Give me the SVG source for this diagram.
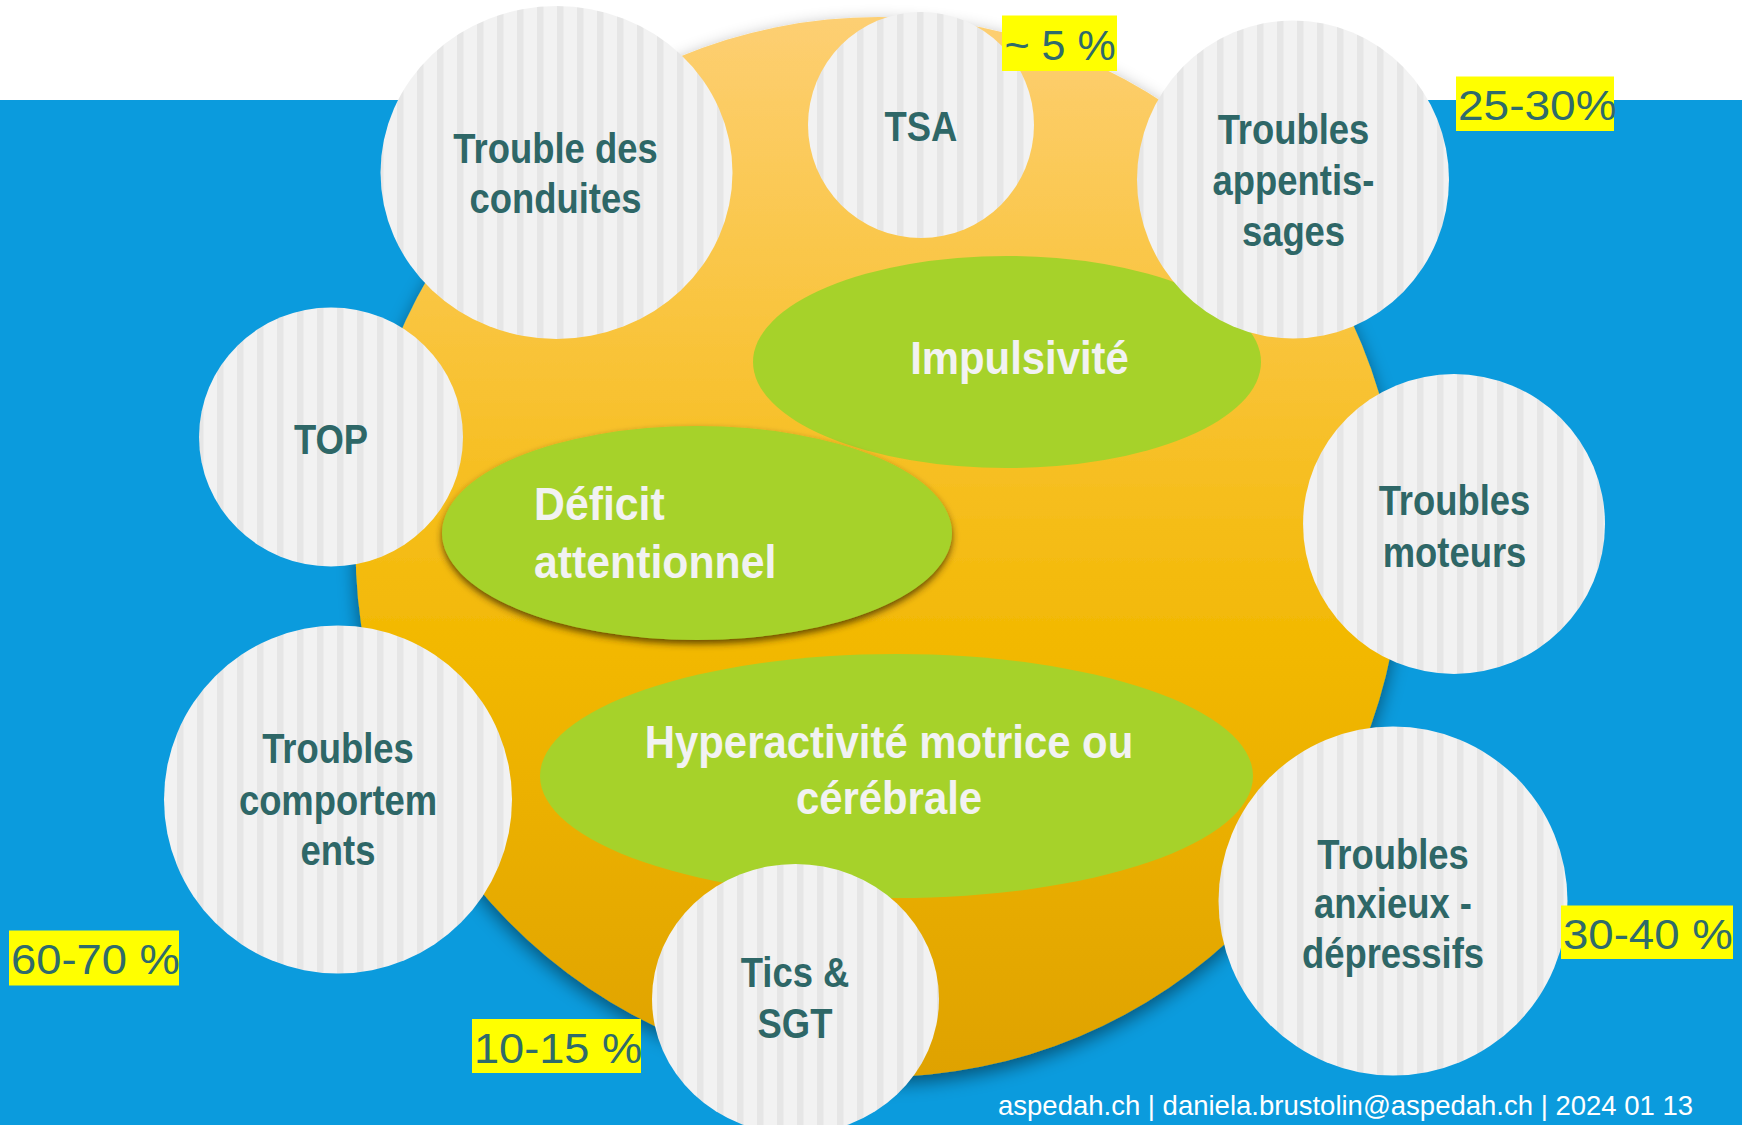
<svg xmlns="http://www.w3.org/2000/svg" width="1742" height="1125" viewBox="0 0 1742 1125">
<style>
.lbl{font-family:"Liberation Sans",Arial,sans-serif;font-weight:bold;font-size:42px;fill:#2E6767;text-anchor:middle}
.grn{font-family:"Liberation Sans",Arial,sans-serif;font-weight:bold;font-size:46px;fill:#F2F2F2}
.pct{font-family:"Liberation Sans",Arial,sans-serif;font-size:43px;fill:#2F6B6B}
.pbox{fill:#FFFF00}
.disc{fill:url(#stripes)}
.green{fill:#A6D22A}
.foot{font-family:"Liberation Sans",Arial,sans-serif;font-size:27.5px;fill:#FFFFFF}
</style>
<defs>
<pattern id="stripes" patternUnits="userSpaceOnUse" x="17" y="0" width="20" height="20">
<rect width="20" height="20" fill="#F2F2F2"/>
<rect width="6.5" height="20" fill="#E6E6E6"/>
</pattern>
<linearGradient id="orange" x1="0" y1="0" x2="0" y2="1">
<stop offset="0" stop-color="#FDCF73"/>
<stop offset="0.35" stop-color="#F8C232"/>
<stop offset="0.6" stop-color="#F2B800"/>
<stop offset="1" stop-color="#DFA200"/>
</linearGradient>
<filter id="bigShadow" x="-10%" y="-10%" width="120%" height="125%">
<feDropShadow dx="0" dy="7" stdDeviation="9" flood-color="#000" flood-opacity="0.45"/>
</filter>
<filter id="greenShadow" x="-10%" y="-15%" width="120%" height="140%">
<feDropShadow dx="0" dy="4" stdDeviation="3.5" flood-color="#3A2A00" flood-opacity="0.75"/>
</filter>
</defs>
<rect id="background-white" x="0" y="0" width="1742" height="1125" fill="#FFFFFF"/>
<rect id="background-blue" x="0" y="100" width="1742" height="1025" fill="#0B9BDD"/>
<g id="orange-core">
<ellipse cx="878.5" cy="547" rx="523" ry="530" fill="url(#orange)" filter="url(#bigShadow)"/>
</g>
<g id="impulsivite">
<ellipse class="green" cx="1007" cy="362" rx="254" ry="106"/>
<text class="grn" text-anchor="middle" transform="translate(1019.5 0) scale(0.91 1)" x="0" y="374">Impulsivité</text>
</g>
<g id="deficit-attentionnel">
<ellipse class="green" cx="697" cy="533" rx="255" ry="107" filter="url(#greenShadow)"/>
<text class="grn" transform="translate(534 0) scale(0.93 1)" x="0" y="520">Déficit</text>
<text class="grn" transform="translate(534 0) scale(0.93 1)" x="0" y="578">attentionnel</text>
</g>
<g id="hyperactivite">
<ellipse class="green" cx="896.5" cy="776" rx="356.5" ry="122"/>
<text class="grn" text-anchor="middle" transform="translate(889 0) scale(0.91 1)" x="0" y="758">Hyperactivité motrice ou</text>
<text class="grn" text-anchor="middle" transform="translate(889 0) scale(0.91 1)" x="0" y="814">cérébrale</text>
</g>
<g id="trouble-des-conduites">
<ellipse class="disc" cx="556.5" cy="172.5" rx="176" ry="166.5"/>
<text class="lbl" transform="translate(555.5 0) scale(0.867 1)" x="0" y="163">Trouble des</text>
<text class="lbl" transform="translate(555.5 0) scale(0.867 1)" x="0" y="213">conduites</text>
</g>
<g id="tsa">
<ellipse class="disc" cx="921" cy="125" rx="113" ry="113"/>
<text class="lbl" transform="translate(921 0) scale(0.867 1)" x="0" y="141">TSA</text>
</g>
<g id="troubles-apprentissages">
<ellipse class="disc" cx="1293" cy="179.5" rx="156" ry="159"/>
<text class="lbl" transform="translate(1293.5 0) scale(0.867 1)" x="0" y="144">Troubles</text>
<text class="lbl" transform="translate(1293.5 0) scale(0.867 1)" x="0" y="195">appentis-</text>
<text class="lbl" transform="translate(1293.5 0) scale(0.867 1)" x="0" y="246">sages</text>
</g>
<g id="top">
<ellipse class="disc" cx="331" cy="437" rx="132" ry="129.5"/>
<text class="lbl" transform="translate(331 0) scale(0.867 1)" x="0" y="454">TOP</text>
</g>
<g id="troubles-moteurs">
<ellipse class="disc" cx="1454" cy="524" rx="151" ry="150"/>
<text class="lbl" transform="translate(1454.5 0) scale(0.867 1)" x="0" y="515">Troubles</text>
<text class="lbl" transform="translate(1454.5 0) scale(0.867 1)" x="0" y="567">moteurs</text>
</g>
<g id="troubles-comportements">
<ellipse class="disc" cx="338" cy="799.5" rx="174" ry="174"/>
<text class="lbl" transform="translate(338 0) scale(0.867 1)" x="0" y="763">Troubles</text>
<text class="lbl" transform="translate(338 0) scale(0.867 1)" x="0" y="815">comportem</text>
<text class="lbl" transform="translate(338 0) scale(0.867 1)" x="0" y="865">ents</text>
</g>
<g id="tics-sgt">
<ellipse class="disc" cx="795.5" cy="999" rx="143.5" ry="135"/>
<text class="lbl" transform="translate(795 0) scale(0.867 1)" x="0" y="987">Tics &amp;</text>
<text class="lbl" transform="translate(795 0) scale(0.867 1)" x="0" y="1038">SGT</text>
</g>
<g id="troubles-anxieux-depressifs">
<ellipse class="disc" cx="1393" cy="901" rx="174.5" ry="174.5"/>
<text class="lbl" transform="translate(1393 0) scale(0.867 1)" x="0" y="869">Troubles</text>
<text class="lbl" transform="translate(1393 0) scale(0.867 1)" x="0" y="918">anxieux -</text>
<text class="lbl" transform="translate(1393 0) scale(0.867 1)" x="0" y="968">dépressifs</text>
</g>
<g id="pct-tsa">
<rect class="pbox" x="1002" y="15.5" width="115" height="55.5"/>
<text class="pct" x="1004.5" y="60">~ 5 %</text>
</g>
<g id="pct-apprentissages">
<rect class="pbox" x="1456" y="76.5" width="158" height="54.5"/>
<text class="pct" transform="translate(1458 0) scale(1.07 1)" x="0" y="120.5">25-30%</text>
</g>
<g id="pct-comportements">
<rect class="pbox" x="9" y="930.5" width="170" height="55"/>
<text class="pct" transform="translate(11 0) scale(1.055 1)" x="0" y="974">60-70 %</text>
</g>
<g id="pct-tics">
<rect class="pbox" x="472" y="1019" width="169" height="54"/>
<text class="pct" transform="translate(474 0) scale(1.05 1)" x="0" y="1063">10-15 %</text>
</g>
<g id="pct-anxieux">
<rect class="pbox" x="1561" y="905.5" width="172" height="53.5"/>
<text class="pct" transform="translate(1563 0) scale(1.06 1)" x="0" y="949.5">30-40 %</text>
</g>
<g id="connectors"/>
<g id="footer">
<text class="foot" x="998" y="1115">aspedah.ch | daniela.brustolin@aspedah.ch | 2024 01 13</text>
</g>
</svg>
